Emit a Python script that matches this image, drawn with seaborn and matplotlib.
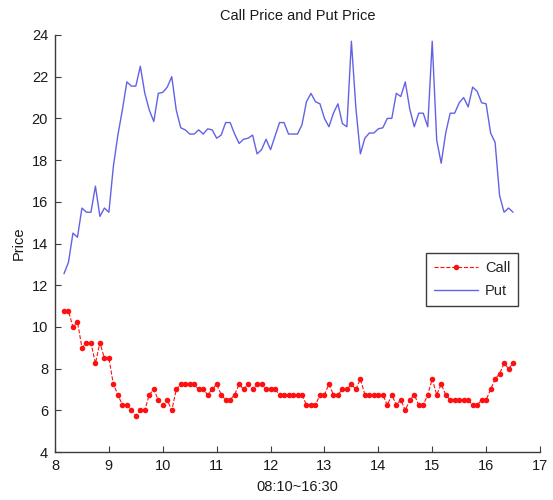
import numpy as np
import pandas as pd
import matplotlib
matplotlib.use("Agg")
import matplotlib.pyplot as plt
import seaborn as sns

# time axis: 08:10 to 16:30, every 5 minutes (in hours)
minutes = np.arange(8 * 60 + 10, 16 * 60 + 31, 5)
hours = minutes / 60.0

call_price = [
    10.75, 10.75, 10.0, 10.25, 9.0, 9.25, 9.25, 8.25, 9.25, 8.5,
    8.5, 7.25, 6.75, 6.25, 6.25, 6.0, 5.75, 6.0, 6.0, 6.75,
    7.0, 6.5, 6.25, 6.5, 6.0, 7.0, 7.25, 7.25, 7.25, 7.25,
    7.0, 7.0, 6.75, 7.0, 7.25, 6.75, 6.5, 6.5, 6.75, 7.25,
    7.0, 7.25, 7.0, 7.25, 7.25, 7.0, 7.0, 7.0, 6.75, 6.75,
    6.75, 6.75, 6.75, 6.75, 6.25, 6.25, 6.25, 6.75, 6.75, 7.25,
    6.75, 6.75, 7.0, 7.0, 7.25, 7.0, 7.5, 6.75, 6.75, 6.75,
    6.75, 6.75, 6.25, 6.75, 6.25, 6.5, 6.0, 6.5, 6.75, 6.25,
    6.25, 6.75, 7.5, 6.75, 7.25, 6.75, 6.5, 6.5, 6.5, 6.5,
    6.5, 6.25, 6.25, 6.5, 6.5, 7.0, 7.5, 7.75, 8.25, 8.0,
    8.25,
]

put_price = [
    12.55, 13.1, 14.5, 14.3, 15.7, 15.5, 15.5, 16.75, 15.3, 15.7,
    15.5, 17.7, 19.2, 20.4, 21.75, 21.55, 21.55, 22.5, 21.2, 20.4,
    19.85, 21.2, 21.25, 21.5, 22.0, 20.4, 19.55, 19.45, 19.25, 19.25,
    19.45, 19.25, 19.5, 19.45, 19.05, 19.2, 19.8, 19.8, 19.25, 18.8,
    19.0, 19.05, 19.2, 18.3, 18.5, 19.0, 18.5, 19.15, 19.8, 19.8,
    19.25, 19.25, 19.25, 19.7, 20.8, 21.2, 20.8, 20.7, 20.0, 19.6,
    20.25, 20.7, 19.75, 19.6, 23.7, 20.5, 18.3, 19.05, 19.3, 19.3,
    19.5, 19.55, 20.0, 20.0, 21.2, 21.05, 21.75, 20.45, 19.6, 20.25,
    20.25, 19.6, 23.7, 18.95, 17.85, 19.3, 20.25, 20.25, 20.75, 21.0,
    20.55, 21.5, 21.3, 20.75, 20.7, 19.3, 18.85, 16.3, 15.5, 15.7,
    15.5,
]

x_ticks = [8, 9, 10, 11, 12, 13, 14, 15, 16, 17]
y_ticks = [4, 6, 8, 10, 12, 14, 16, 18, 20, 22, 24]

df = pd.DataFrame({"time": hours, "Call": call_price, "Put": put_price})

sns.set_style("white")
plt.rcParams["font.family"] = ["Liberation Sans", "DejaVu Sans"]

fig = plt.figure(figsize=(5.53, 5.0), dpi=100)
ax = fig.add_axes([55 / 553, 1 - 452 / 500, 485 / 553, 417 / 500])

sns.lineplot(data=df, x="time", y="Call", ax=ax, color="#ff1010",
             linestyle="--", linewidth=0.8, marker="o", markersize=4.0,
             markeredgewidth=0, label="Call")
sns.lineplot(data=df, x="time", y="Put", ax=ax, color="#6262e6",
             linewidth=1.0, label="Put")

ax.set_xlim(8, 17)
ax.set_ylim(4, 24)
ax.set_xticks(x_ticks)
ax.set_yticks(y_ticks)
ax.set_xticklabels([str(t) for t in x_ticks])
ax.set_yticklabels([str(t) for t in y_ticks])

for side in ["top", "right"]:
    ax.spines[side].set_visible(False)
for side in ["left", "bottom"]:
    ax.spines[side].set_color("#3c3c3c")
    ax.spines[side].set_linewidth(1.0)

ax.tick_params(axis="both", direction="in", length=4, width=0.8,
               color="#3c3c3c", labelsize=10.5, labelcolor="#1a1a1a", pad=5)
ax.tick_params(axis="both", which="both", left=True, bottom=True)

ax.set_title("Call Price and Put Price", fontsize=10.5, color="#1a1a1a", pad=11)
ax.set_xlabel("08:10~16:30", fontsize=10.5, color="#1a1a1a", labelpad=5)
ax.set_ylabel("Price", fontsize=10.5, color="#1a1a1a", labelpad=4)

leg = ax.legend(loc="upper left", bbox_to_anchor=(0.765, 0.477),
                borderaxespad=0, frameon=True, fancybox=False, framealpha=1,
                edgecolor="#3c3c3c", fontsize=10.5, handlelength=3.0,
                borderpad=0.55, labelspacing=0.6, handletextpad=0.5)
leg.get_frame().set_linewidth(1.0)

fig.savefig("out.png", dpi=100)
